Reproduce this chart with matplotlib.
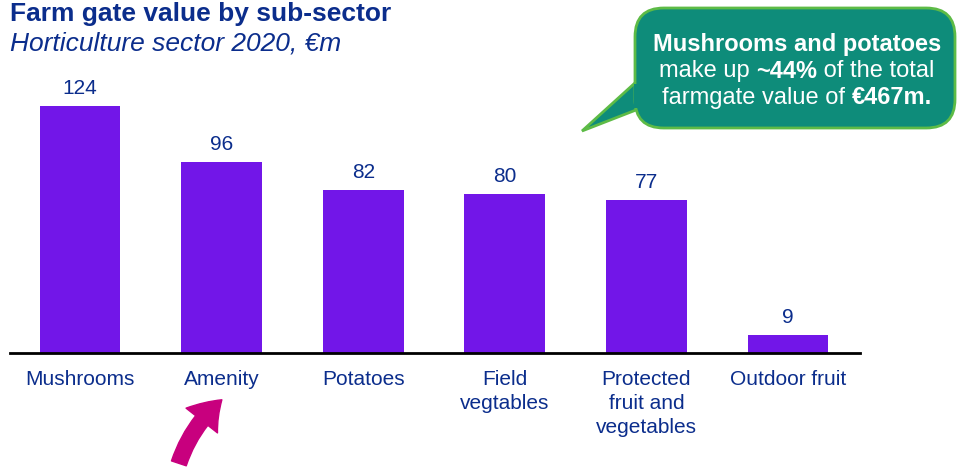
import numpy as np
import matplotlib
matplotlib.use("Agg")
import matplotlib.pyplot as plt
from matplotlib.patches import FancyBboxPatch, Polygon, FancyArrowPatch

plt.rcParams['font.family'] = ['Liberation Sans', 'DejaVu Sans']

# datos
categorias = ["Mushrooms", "Amenity", "Potatoes", "Field\nvegtables",
              "Protected\nfruit and\nvegetables", "Outdoor fruit"]
valores = [124, 96, 82, 80, 77, 9]

azul = "#0B2D8C"
morado = "#7216E8"
verde = "#0E8C7A"
borde = "#5DBB46"
magenta = "#C8007E"

W, H = 958, 467
fig = plt.figure(figsize=(W / 100, H / 100), dpi=100)

# ejes: linea base en y=353 px, x de 10 a 860 px
ax = fig.add_axes([10 / W, 1 - 353 / H, 850 / W, (353 - 74.4) / H])
x = np.arange(len(categorias))
ax.bar(x, valores, width=0.57, color=morado)
for xi, v in zip(x, valores):
    ax.text(xi, v + 4, str(v), ha="center", va="bottom", fontsize=15, color=azul)
ax.set_xlim(-0.494, 5.508)
ax.set_ylim(0, 140)
ax.set_xticks(x)
ax.set_xticklabels(categorias, fontsize=15, color=azul, linespacing=1.35)
ax.tick_params(axis="x", length=0, pad=12)
ax.set_yticks([])
for s in ["top", "right", "left"]:
    ax.spines[s].set_visible(False)
ax.spines["bottom"].set_linewidth(2)
ax.spines["bottom"].set_color("black")

# titulo
fig.text(10 / W, 1 - 14 / H, "Farm gate value by sub-sector", fontsize=19,
         fontweight="bold", color=azul, va="center", ha="left")
fig.text(10 / W, 1 - 44 / H, "Horticulture sector 2020, €m", fontsize=19,
         fontstyle="italic", color=azul, va="center", ha="left")

# globo de texto (coordenadas en pixeles)
def px(xp, yp):
    return (xp / W, 1 - yp / H)

tail = Polygon([px(636, 82), px(582, 131), px(636, 110)], closed=True,
               transform=fig.transFigure, facecolor=verde, edgecolor=borde, lw=2)
fig.patches.append(tail)
caja = FancyBboxPatch(px(635, 128), 320 / W, 120 / H,
                      boxstyle="round,pad=0,rounding_size=0.03",
                      transform=fig.transFigure, facecolor=verde,
                      edgecolor=borde, lw=2, mutation_aspect=W / H)
fig.patches.append(caja)
tapa = Polygon([px(638, 84), px(638, 108), px(634, 108), px(634, 84)],
               transform=fig.transFigure, facecolor=verde, edgecolor="none")
fig.patches.append(tapa)

renderer = fig.canvas.get_renderer()

def linea(partes, cx, cy):
    textos = []
    for t, peso in partes:
        tx = fig.text(0, 1 - cy / H, t, fontsize=17, color="white",
                      fontweight=peso, va="center", ha="left")
        textos.append(tx)
    anchos = [tx.get_window_extent(renderer).width for tx in textos]
    inicio = cx - sum(anchos) / 2
    for tx, a in zip(textos, anchos):
        tx.set_x(inicio / W)
        inicio += a

linea([("Mushrooms and potatoes", "bold")], 797, 44)
linea([("make up ", "normal"), ("~44%", "bold"), (" of the total", "normal")], 797, 71)
linea([("farmgate value of ", "normal"), ("€467m.", "bold")], 797, 98)

# flecha magenta
flecha = FancyArrowPatch(px(178, 466), px(224, 398), transform=fig.transFigure,
                         connectionstyle="arc3,rad=-0.15",
                         arrowstyle="simple,head_width=1.8,head_length=1.3,tail_width=0.7",
                         mutation_scale=16, color=magenta)
fig.patches.append(flecha)

fig.savefig("out.png", dpi=100)
